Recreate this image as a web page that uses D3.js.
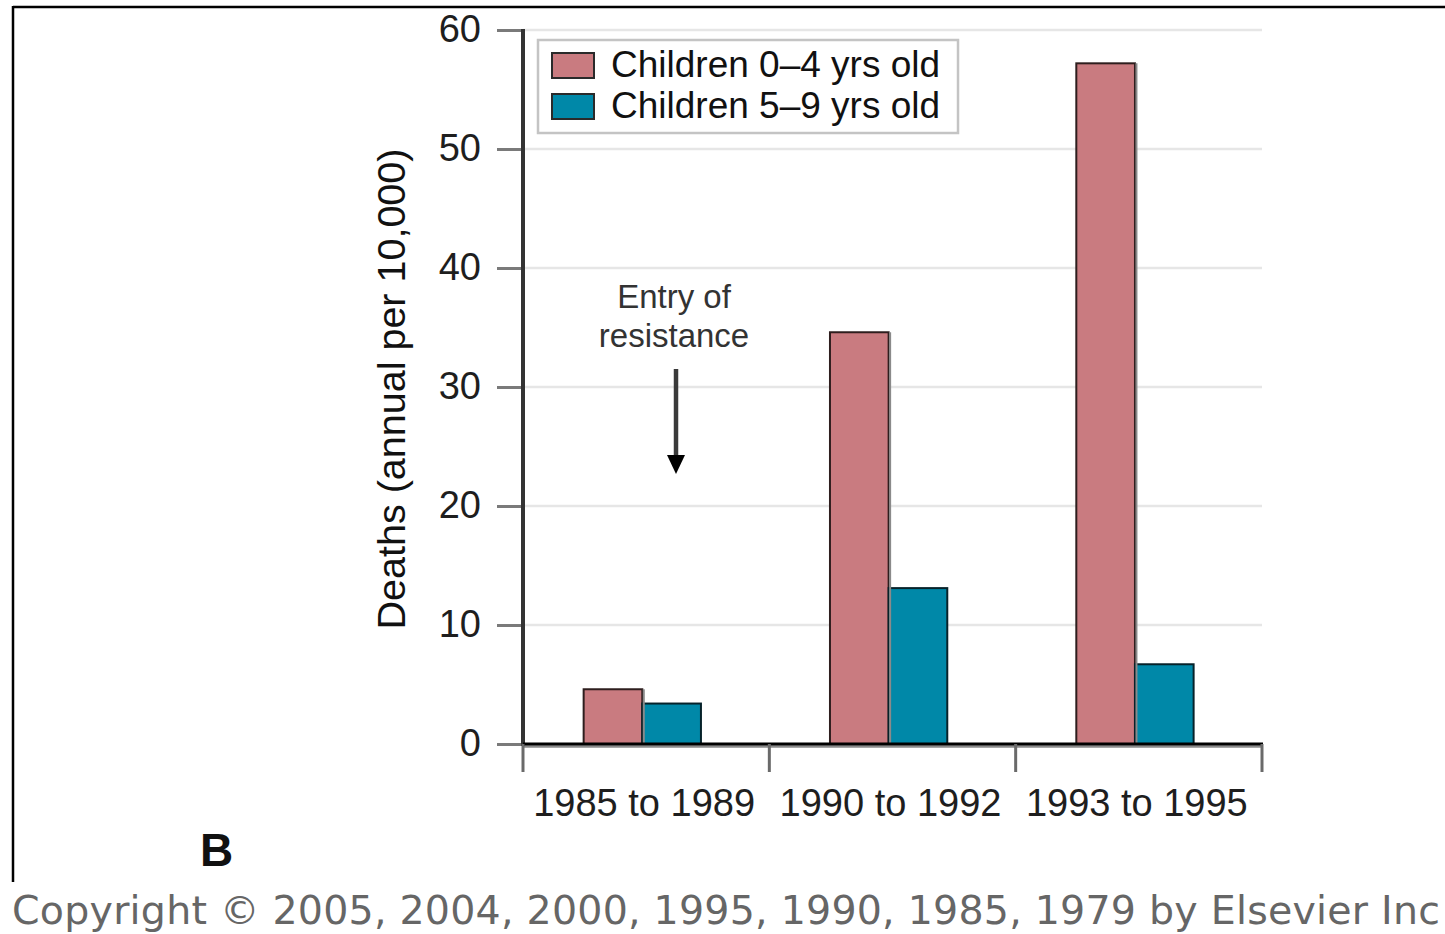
<!DOCTYPE html>
<html>
<head>
<meta charset="utf-8">
<script src="https://cdn.jsdelivr.net/npm/d3@7"></script>
<style>
  html, body { margin: 0; padding: 0; background: #fff; }
  svg { display: block; }
</style>
</head>
<body>
<svg id="chart" width="1445" height="934"></svg>
<script>
// Deaths per 10,000 children per year, by period and age group
const categories = ["1985 to 1989", "1990 to 1992", "1993 to 1995"];
const seriesNames = ["Children 0\u20134 yrs old", "Children 5\u20139 yrs old"];
const ages0to4 = [4.6, 34.6, 57.2];
const ages5to9 = [3.4, 13.1, 6.7];
const yTicks = [0, 10, 20, 30, 40, 50, 60];
const seriesColors = ["#c97b80", "#0088a8"];

const svg = d3.select("#chart");
const font = "'Liberation Sans', Arial, sans-serif";

const plot = { left: 523, right: 1262, top: 30, bottom: 744 };

const x0 = d3.scaleBand().domain(categories).range([plot.left, plot.right]).paddingInner(0).paddingOuter(0);
const x1 = d3.scaleBand().domain(seriesNames).range([0, x0.bandwidth()])
  .paddingInner(0).paddingOuter(1.1).align(0.47);
const y = d3.scaleLinear().domain([0, 60]).range([plot.bottom, plot.top]);

const rows = categories.map((c, i) => ({ category: c, values: [ages0to4[i], ages5to9[i]] }));

// Outer frame (top and left rules)
svg.append("line").attr("x1", 13).attr("x2", 1445).attr("y1", 7).attr("y2", 7)
  .attr("stroke", "#000").attr("stroke-width", 2.5);
svg.append("line").attr("x1", 13).attr("x2", 13).attr("y1", 6).attr("y2", 882)
  .attr("stroke", "#000").attr("stroke-width", 2.5);

// Horizontal gridlines
svg.append("g").selectAll("line").data(yTicks.filter(d => d > 0)).join("line")
  .attr("x1", plot.left).attr("x2", plot.right)
  .attr("y1", d => y(d)).attr("y2", d => y(d))
  .attr("stroke", "#e6e6e6").attr("stroke-width", 2.5);

// Y axis
const yAxis = svg.append("g").attr("transform", `translate(${plot.left},0)`)
  .call(d3.axisLeft(y).tickValues(yTicks).tickSize(26).tickPadding(16).tickFormat(d3.format("d")));
yAxis.select(".domain").remove();
yAxis.selectAll(".tick line").attr("stroke", "#7a7a7a").attr("stroke-width", 3);
yAxis.selectAll(".tick text").attr("font-family", font).attr("font-size", 38).attr("fill", "#1e1e1e")
  .attr("dy", "0.3em");
svg.append("line").attr("x1", plot.left).attr("x2", plot.left).attr("y1", plot.top - 1).attr("y2", plot.bottom + 2)
  .attr("stroke", "#333").attr("stroke-width", 4);

// Y axis title
svg.append("text")
  .attr("transform", `translate(405, 389) rotate(-90)`)
  .attr("text-anchor", "middle").attr("font-family", font).attr("font-size", 39.5).attr("fill", "#111")
  .text("Deaths (annual per 10,000)");

// Bars
const groups = svg.append("g").selectAll("g").data(rows).join("g")
  .attr("transform", d => `translate(${x0(d.category)},0)`);
groups.selectAll("rect").data(d => d.values.map((v, i) => ({ key: seriesNames[i], value: v, i }))).join("rect")
  .attr("x", d => x1(d.key))
  .attr("y", d => y(d.value))
  .attr("width", x1.bandwidth())
  .attr("height", d => y(0) - y(d.value))
  .attr("fill", d => seriesColors[d.i])
  .attr("stroke", d => d.i === 0 ? "#2e1e1e" : "#06222a")
  .attr("stroke-width", 2);
// light shade on the right side of the 0-4 bars
groups.selectAll("line.shade").data(d => [{ key: seriesNames[0], value: d.values[0] }]).join("line")
  .attr("class", "shade")
  .attr("x1", d => x1(d.key) + x1.bandwidth() + 1.5).attr("x2", d => x1(d.key) + x1.bandwidth() + 1.5)
  .attr("y1", d => y(d.value)).attr("y2", y(0))
  .attr("stroke", "#8a8a8a").attr("stroke-width", 2);

// X axis baseline and category separators
svg.append("line").attr("x1", plot.left).attr("x2", plot.right).attr("y1", y(0) + 2.5).attr("y2", y(0) + 2.5)
  .attr("stroke", "#8a8a8a").attr("stroke-width", 2.5);
svg.append("line").attr("x1", plot.left).attr("x2", plot.right + 1).attr("y1", y(0)).attr("y2", y(0))
  .attr("stroke", "#000").attr("stroke-width", 3);
const bounds = categories.map(c => x0(c)).concat([x0.range()[1]]);
svg.append("g").selectAll("line").data(bounds).join("line")
  .attr("x1", d => d).attr("x2", d => d).attr("y1", y(0)).attr("y2", y(0) + 28)
  .attr("stroke", "#6a6a6a").attr("stroke-width", 3);

// X labels
svg.append("g").selectAll("text").data(categories).join("text")
  .attr("x", d => x0(d) + x0.bandwidth() / 2 - 2)
  .attr("y", 816)
  .attr("text-anchor", "middle").attr("font-family", font).attr("font-size", 38).attr("fill", "#1e1e1e")
  .text(d => d);

// Legend
const legend = svg.append("g");
legend.append("rect").attr("x", 538).attr("y", 40).attr("width", 420).attr("height", 93)
  .attr("fill", "#fff").attr("stroke", "#c4c4c4").attr("stroke-width", 2.5);
const items = legend.selectAll("g").data(seriesNames).join("g")
  .attr("transform", (d, i) => `translate(552, ${53 + i * 41})`);
items.append("rect").attr("width", 42).attr("height", 25)
  .attr("fill", (d, i) => seriesColors[i]).attr("stroke", "#2a2a2a").attr("stroke-width", 2);
items.append("text").attr("x", 59).attr("y", 24)
  .attr("font-family", font).attr("font-size", 37).attr("fill", "#111")
  .text(d => d);

// Annotation
const ann = svg.append("g");
ann.append("text").attr("x", 674).attr("y", 308).attr("text-anchor", "middle")
  .attr("font-family", font).attr("font-size", 33).attr("fill", "#333").text("Entry of");
ann.append("text").attr("x", 674).attr("y", 347).attr("text-anchor", "middle")
  .attr("font-family", font).attr("font-size", 33).attr("fill", "#333").text("resistance");
ann.append("line").attr("x1", 676).attr("x2", 676).attr("y1", 369).attr("y2", 458)
  .attr("stroke", "#3a3a3a").attr("stroke-width", 4.5);
ann.append("path").attr("d", "M667,455 L685,455 L676,474 Z").attr("fill", "#000");

// Panel letter
svg.append("text").attr("x", 200).attr("y", 866)
  .attr("font-family", font).attr("font-weight", "bold").attr("font-size", 46).attr("fill", "#111").text("B");

// Copyright line
svg.append("text").attr("x", 12).attr("y", 924)
  .attr("font-family", "'DejaVu Sans', Verdana, sans-serif").attr("font-size", 39.5).attr("fill", "#666")
  .attr("textLength", 1428).attr("lengthAdjust", "spacing")
  .text("Copyright \u00a9 2005, 2004, 2000, 1995, 1990, 1985, 1979 by Elsevier Inc");
</script>
</body>
</html>
